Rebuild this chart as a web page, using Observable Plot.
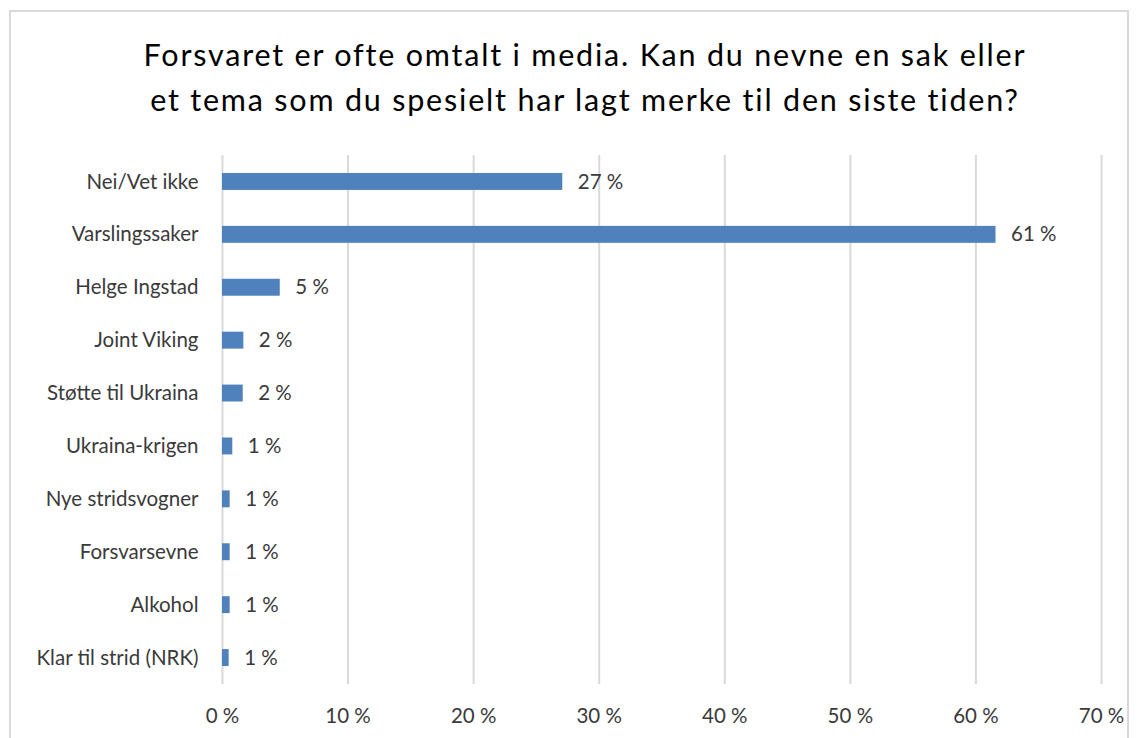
<!DOCTYPE html>
<html>
<head>
<meta charset="utf-8">
<script src="https://cdn.jsdelivr.net/npm/d3@7"></script>
<script src="https://cdn.jsdelivr.net/npm/@observablehq/plot@0.6"></script>
<style>
  body { margin: 0; background: #fff; font-family: Lato, sans-serif; }
  #wrap { position: relative; width: 1141px; height: 738px; overflow: hidden; }
  #frame { position: absolute; left: 9px; top: 10px; width: 1120px; height: 740px; border: 2px solid #d9d9d9; box-sizing: border-box; }
  #title { position: absolute; left: 0; top: 32px; width: 1170px; text-align: center; font-size: 30.5px; letter-spacing: 1.8px; line-height: 45px; color: #000; }
  #chart { position: absolute; left: 0; top: 0; }
</style>
</head>
<body>
<div id="wrap">
  <div id="frame"></div>
  <div id="chart"></div>
  <div id="title">Forsvaret er ofte omtalt i media. Kan du nevne en sak eller<br>et tema som du spesielt har lagt merke til den siste tiden?</div>
</div>
<script>
const categories = ["Nei/Vet ikke", "Varslingssaker", "Helge Ingstad", "Joint Viking", "Støtte til Ukraina", "Ukraina-krigen", "Nye stridsvogner", "Forsvarsevne", "Alkohol", "Klar til strid (NRK)"];
const values = [0.271, 0.616, 0.046, 0.017, 0.0165, 0.0082, 0.0061, 0.0061, 0.0061, 0.0053];
const labels = ["27 %", "61 %", "5 %", "2 %", "2 %", "1 %", "1 %", "1 %", "1 %", "1 %"];
const xTicks = [0, 0.1, 0.2, 0.3, 0.4, 0.5, 0.6, 0.7];

const data = categories.map((c, i) => ({category: c, value: values[i], label: labels[i]}));

const chart = Plot.plot({
  width: 1141,
  height: 738,
  marginTop: 155,
  marginBottom: 54,
  marginLeft: 222,
  marginRight: 40,
  style: {fontFamily: "Lato, sans-serif", fontSize: "20.5px", color: "#3a3a3a", background: "transparent"},
  x: {domain: [0, 0.7], ticks: xTicks, tickFormat: d => Math.round(d * 100) + " %", label: null, tickSize: 0, tickPadding: 24},
  y: {domain: categories, label: null, tickSize: 0, tickPadding: 24, paddingInner: 0.68, paddingOuter: 0.34, round: false},
  marks: [
    Plot.ruleX(xTicks, {stroke: "#d9d9d9", strokeWidth: 2}),
    Plot.barX(data, {x: "value", y: "category", fill: "#4f81bd"}),
    Plot.text(data, {x: "value", y: "category", text: "label", textAnchor: "start", dx: 15, fill: "#3a3a3a", fontSize: 20.5})
  ]
});
document.getElementById("chart").append(chart);
</script>
</body>
</html>
